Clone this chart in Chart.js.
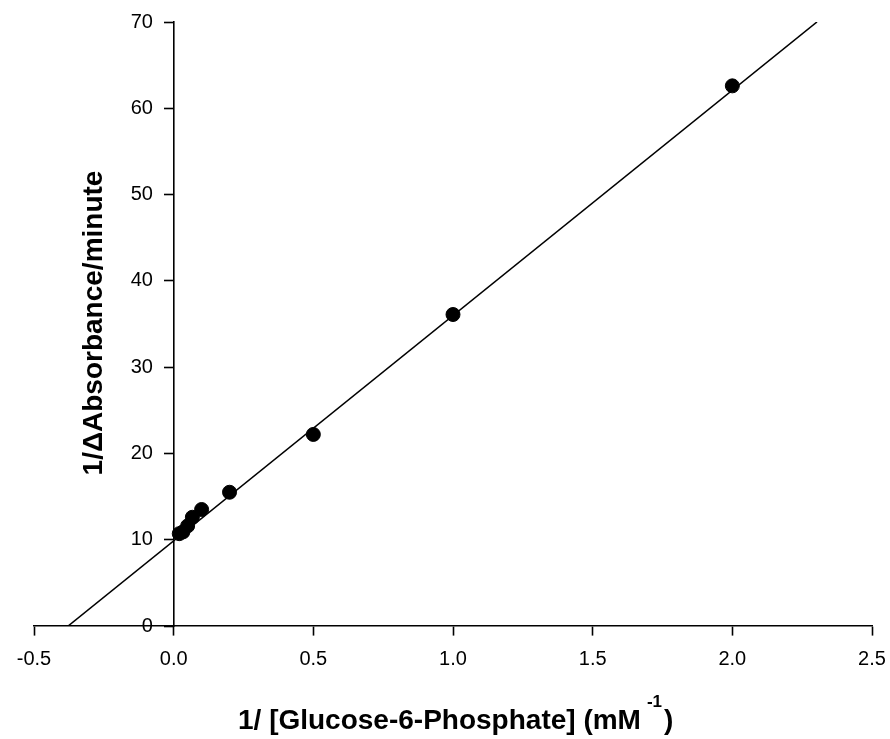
<!DOCTYPE html>
<html>
<head>
<meta charset="utf-8">
<script src="https://cdn.jsdelivr.net/npm/chart.js@4.4.1/dist/chart.umd.min.js"></script>
<style>
  html, body { margin: 0; padding: 0; background: #fff; }
  #wrap { width: 890px; height: 739px; }
</style>
</head>
<body>
<div id="wrap"><canvas id="myChart" width="890" height="739"></canvas></div>
<script>
// data
const recipConc = [2.0, 1.0, 0.5, 0.2, 0.1, 0.067, 0.05, 0.033, 0.02];
const recipRate = [62.6, 36.1, 22.2, 15.5, 13.5, 12.6, 11.6, 10.9, 10.7];
const fitX = [-0.378, 2.303];
const fitY = [0, 70];
const xTicks = [-0.5, 0.0, 0.5, 1.0, 1.5, 2.0, 2.5];
const yTicks = [0, 10, 20, 30, 40, 50, 60, 70];

const FONT = '"Liberation Sans", Arial, sans-serif';

// axis titles (x title needs a superscript)
const titlesPlugin = {
  id: "axisTitles",
  afterDraw(chart) {
    const ctx = chart.ctx;
    ctx.save();
    ctx.fillStyle = "#000";
    ctx.textBaseline = "alphabetic";
    ctx.textAlign = "left";

    // x title
    const main = "1/ [Glucose-6-Phosphate] (mM";
    const sup = "-1";
    const close = ")";
    let x = 238;
    const base = 729;
    ctx.font = "bold 28px " + FONT;
    ctx.fillText(main, x, base);
    x += ctx.measureText(main).width + 6;
    ctx.font = "bold 17px " + FONT;
    ctx.fillText(sup, x, base - 22);
    x += ctx.measureText(sup).width + 2;
    ctx.font = "bold 28px " + FONT;
    ctx.fillText(close, x, base);

    // y title
    const yt = "1/\u0394Absorbance/minute";
    ctx.font = "bold 28px " + FONT;
    ctx.translate(101.5, 323);
    ctx.rotate(-Math.PI / 2);
    ctx.textAlign = "center";
    ctx.fillText(yt, 0, 0);
    ctx.restore();
  }
};

const config = {
  type: "scatter",
  data: {
    datasets: [
      {
        label: "fit",
        type: "line",
        data: fitX.map((v, i) => ({ x: v, y: fitY[i] })),
        borderColor: "#000",
        borderWidth: 1.6,
        pointRadius: 0,
        fill: false,
        tension: 0,
        order: 2
      },
      {
        label: "data",
        data: recipConc.map((v, i) => ({ x: v, y: recipRate[i] })),
        backgroundColor: "#000",
        borderColor: "#000",
        pointRadius: 7,
        pointHoverRadius: 7,
        order: 1
      }
    ]
  },
  options: {
    responsive: false,
    animation: false,
    layout: { padding: { left: 34, right: 18, top: 22, bottom: 113 } },
    plugins: {
      legend: { display: false },
      tooltip: { enabled: false }
    },
    scales: {
      x: {
        type: "linear",
        position: { y: 0 },
        min: -0.5,
        max: 2.5,
        afterBuildTicks: (scale) => {
          scale.ticks = xTicks.map((v) => ({ value: v }));
        },
        afterFit: (scale) => {
          scale.paddingLeft = 0;
          scale.paddingRight = 0;
        },
        grid: {
          display: true,
          drawOnChartArea: false,
          drawTicks: true,
          tickLength: 9,
          tickWidth: 1.6,
          tickColor: "#000"
        },
        border: { display: true, color: "#000", width: 1.6 },
        ticks: {
          color: "#000",
          font: { family: FONT, size: 20 },
          padding: 12,
          maxRotation: 0,
          autoSkip: false,
          callback: (v) => Number(v).toFixed(1)
        }
      },
      y: {
        type: "linear",
        position: { x: 0 },
        min: 0,
        max: 70,
        afterBuildTicks: (scale) => {
          scale.ticks = yTicks.map((v) => ({ value: v }));
        },
        grid: {
          display: true,
          drawOnChartArea: false,
          drawTicks: true,
          tickLength: 9,
          tickWidth: 1.6,
          tickColor: "#000"
        },
        border: { display: true, color: "#000", width: 1.6 },
        ticks: {
          color: "#000",
          font: { family: FONT, size: 20 },
          autoSkip: false,
          // axis sits mid-chart, so push labels clear of the tick marks
          callback: (v) => String(v) + "   \u2009"
        }
      }
    }
  },
  plugins: [titlesPlugin]
};

const ctx = document.getElementById("myChart").getContext("2d");
const myChart = new Chart(ctx, config);
</script>
</body>
</html>
